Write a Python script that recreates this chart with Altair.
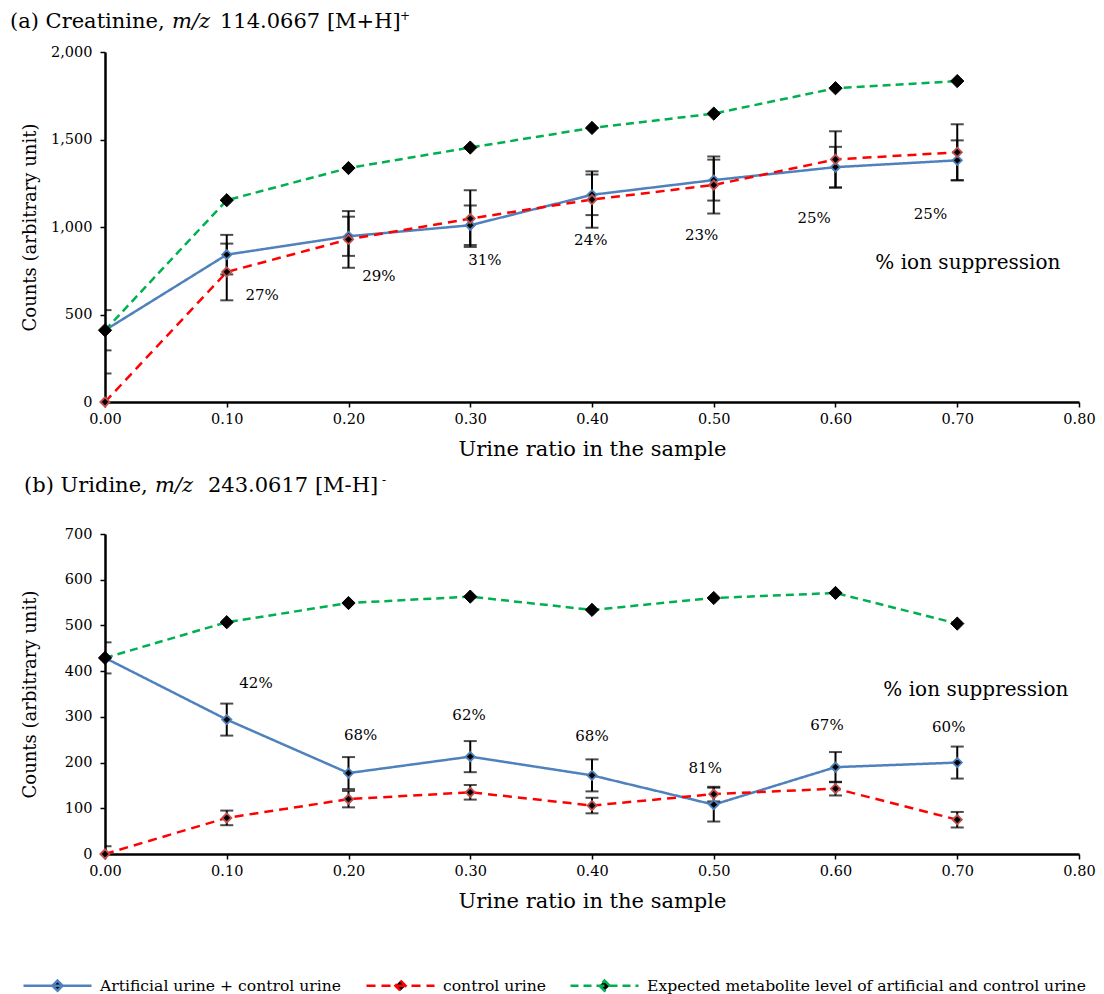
import altair as alt
import pandas as pd

FONT = "DejaVu Serif"

# ---------------- data ----------------
ratio = [0.0, 0.1, 0.2, 0.3, 0.4, 0.5, 0.6, 0.7]
x_ticks = [0.0, 0.1, 0.2, 0.3, 0.4, 0.5, 0.6, 0.7, 0.8]

S_MIX = "Artificial urine + control urine"
S_CTRL = "control urine"
S_EXP = "Expected metabolite level of artificial and control urine"
series_names = [S_MIX, S_CTRL, S_EXP]
line_colors = ["#4F81BD", "#FF0000", "#00B050"]
marker_edges = ["#4F81BD", "#C0504D", "#000000"]
dash_styles = [[1, 0], [9, 6], [8, 5]]

# (a) Creatinine
a_mix = [410, 842, 947, 1010, 1184, 1268, 1342, 1381]
a_mix_err = [115, 113, 112, 113, 116, 117, 116, 114]
a_ctrl = [0, 743, 929, 1048, 1157, 1240, 1386, 1427]
a_ctrl_err = [163, 162, 162, 162, 161, 163, 161, 160]
a_exp = [410, 1153, 1337, 1454, 1566, 1648, 1793, 1834]
a_pct = ["27%", "29%", "31%", "24%", "23%", "25%", "25%"]
a_pct_x = [0.129, 0.225, 0.312, 0.399, 0.490, 0.5825, 0.678]
a_pct_y = [610, 718, 810, 924, 952, 1054, 1077]
a_ion_x = [0.7087]
a_ion_y = [797]
a_y_ticks = [0, 500, 1000, 1500, 2000]

# (b) Uridine
b_mix = [429, 294, 177, 213, 172, 108, 190, 200]
b_mix_err = [34, 35, 35, 34, 35, 37, 33, 35]
b_ctrl = [0, 79, 120, 135, 106, 131, 143, 75]
b_ctrl_err = [17, 16, 18, 16, 17, 16, 15, 17]
b_exp = [429, 507, 549, 563, 534, 560, 571, 504]
b_pct = ["42%", "68%", "62%", "68%", "81%", "67%", "60%"]
b_pct_x = [0.124, 0.210, 0.299, 0.400, 0.493, 0.593, 0.693]
b_pct_y = [374, 261, 305, 258, 188, 282, 277]
b_ion_x = [0.7153]
b_ion_y = [358]
b_y_ticks = [0, 100, 200, 300, 400, 500, 600, 700]

ION_TEXT = ["% ion suppression"]


def long_df(mix, ctrl, exp):
    rows = []
    for name, vals in zip(series_names, [mix, ctrl, exp]):
        for r, v in zip(ratio, vals):
            rows.append({"ratio": r, "value": v, "series": name})
    return pd.DataFrame(rows)


def err_df(mix, mix_err, ctrl, ctrl_err):
    rows = []
    for name, vals, errs in [(S_MIX, mix, mix_err), (S_CTRL, ctrl, ctrl_err)]:
        for r, v, e in zip(ratio, vals, errs):
            rows.append({"ratio": r, "series": name, "lo": v - e, "hi": v + e})
    return pd.DataFrame(rows)


stroke_scale = alt.Scale(domain=series_names, range=line_colors)
dash_scale = alt.Scale(domain=series_names, range=dash_styles)

LEG_PATH = "M-1,0L1,0M0,-0.15L0.15,0L0,0.15L-0.15,0Z"
legend_def = alt.Legend(
    title=None, orient="none", legendX=-83, legendY=898, direction="horizontal",
    symbolType=LEG_PATH, symbolSize=4624, symbolStrokeWidth=2.5,
    symbolFillColor="black",
    labelFont=FONT, labelFontSize=15.6, labelColor="black", labelOffset=7,
    columnPadding=19, labelLimit=0,
)


def panel(mix, mix_err, ctrl, ctrl_err, exp, pct, pct_x, pct_y, ion_x, ion_y,
          y_ticks, y_fmt, width, height, title_parts, with_legend=False):
    df_lines = long_df(mix, ctrl, exp)
    df_err = err_df(mix, mix_err, ctrl, ctrl_err)
    xscale = alt.Scale(domain=[0, 0.8], nice=False, zero=False)
    yscale = alt.Scale(domain=[y_ticks[0], y_ticks[-1]], nice=False)
    xaxis = alt.Axis(values=x_ticks, format=".2f", title="Urine ratio in the sample",
                     titleFontSize=21, titleY=47, titleBaseline="middle",
                     labelPadding=5)
    yaxis = alt.Axis(values=y_ticks, format=y_fmt, title="Counts (arbitrary unit)",
                     titleFontSize=18, titleX=-75, titleY=height / 2,
                     titleBaseline="middle", labelPadding=8)

    def X(field):
        return alt.X(field, type="quantitative", scale=xscale, axis=xaxis)

    def Y(field):
        return alt.Y(field, type="quantitative", scale=yscale, axis=yaxis)

    layers = []
    if with_legend:
        # legend-only layer: draws nothing, supplies the shared legend
        layers.append(
            alt.Chart(df_lines).transform_filter("false").mark_point(
                shape=LEG_PATH, filled=True, color="black", strokeWidth=2.5,
                size=4624, opacity=1
            ).encode(
                x=X("ratio"), y=Y("value"),
                stroke=alt.Stroke("series:N", scale=stroke_scale, legend=legend_def),
                strokeDash=alt.StrokeDash("series:N", scale=dash_scale, legend=legend_def),
            )
        )

    for name, color, dash in zip(series_names, line_colors, dash_styles):
        layers.append(
            alt.Chart(df_lines).transform_filter(alt.datum.series == name).mark_line(
                color=color, strokeWidth=2.5, strokeDash=dash
            ).encode(x=X("ratio"), y=Y("value"))
        )

    layers.append(
        alt.Chart(df_err).mark_rule(color="black", strokeWidth=2, clip=True).encode(
            x=X("ratio"), y=Y("lo"), y2="hi:Q"))
    layers.append(
        alt.Chart(df_err).transform_fold(["lo", "hi"], as_=["end", "yv"]).mark_tick(
            orient="horizontal", color="black", thickness=2, size=13, clip=True
        ).encode(x=X("ratio"), y=Y("yv")))

    for name, edge, size, sw in [(S_MIX, marker_edges[0], 85, 1.8),
                                 (S_CTRL, marker_edges[1], 85, 1.8),
                                 (S_EXP, marker_edges[2], 175, 1)]:
        layers.append(
            alt.Chart(df_lines).transform_filter(alt.datum.series == name).mark_point(
                shape="diamond", filled=True, fill="black", stroke=edge,
                strokeWidth=sw, size=size, opacity=1
            ).encode(x=X("ratio"), y=Y("value"))
        )

    pct_df = pd.DataFrame({"x": pct_x, "y": pct_y, "t": pct})
    layers.append(alt.Chart(pct_df).mark_text(font=FONT, fontSize=15, color="black").encode(
        x=X("x"), y=Y("y"), text="t:N"))
    ion_df = pd.DataFrame({"x": ion_x, "y": ion_y, "t": ION_TEXT})
    layers.append(alt.Chart(ion_df).mark_text(font=FONT, fontSize=20, color="black").encode(
        x=X("x"), y=Y("y"), text="t:N"))

    for text, px, py, size, style in title_parts:
        layers.append(
            alt.Chart(pd.DataFrame({"t": [text]})).mark_text(
                font=FONT, fontSize=size, fontStyle=style, align="left",
                baseline="middle", color="black"
            ).encode(x=alt.value(px), y=alt.value(py), text="t:N")
        )

    return alt.layer(*layers).properties(width=width, height=height)


top = panel(a_mix, a_mix_err, a_ctrl, a_ctrl_err, a_exp, a_pct, a_pct_x, a_pct_y,
            a_ion_x, a_ion_y, a_y_ticks, ",d", 974, 350,
            [("(a) Creatinine,", -95, -30, 21, "normal"),
             ("m/z", 67, -30, 21, "italic"),
             ("114.0667 [M+H]", 115, -30, 21, "normal"),
             ("+", 295, -36, 12, "normal")])

bottom = panel(b_mix, b_mix_err, b_ctrl, b_ctrl_err, b_exp, b_pct, b_pct_x, b_pct_y,
               b_ion_x, b_ion_y, b_y_ticks, "d", 974, 320,
               [("(b) Uridine,", -81, -48, 21, "normal"),
                ("m/z", 50, -48, 21, "italic"),
                ("243.0617 [M-H]", 103, -48, 21, "normal"),
                ("-", 277, -54, 12, "normal")],
               with_legend=True)

chart = alt.vconcat(top, bottom, spacing=132, bounds="flush").properties(
    padding={"left": 2, "top": 2, "right": 0, "bottom": 0}
).configure_view(stroke=None).configure_axis(
    domainColor="black", domainWidth=2.5, tickColor="black", tickWidth=1.5,
    tickSize=5, labelFont=FONT, labelFontSize=14.5, labelColor="black",
    titleFont=FONT, titleFontWeight="normal", titleColor="black", grid=False,
    labelFlush=False, labelOverlap=False,
)

chart.save("out.html", embed_options={"renderer": "svg", "actions": False})
